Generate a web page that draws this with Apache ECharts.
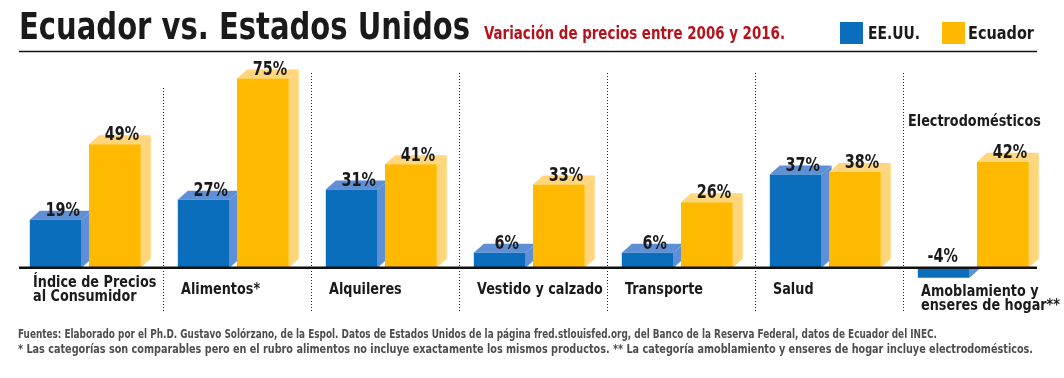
<!DOCTYPE html>
<html>
<head>
<meta charset="utf-8">
<script src="https://cdn.jsdelivr.net/npm/echarts@6/dist/echarts.min.js"></script>
<style>
html,body{margin:0;padding:0;background:#fff;}
#c{width:1064px;height:378px;}
</style>
</head>
<body>
<div id="c"></div>
<script>
// ---- data ----
const categories = ['Índice de Precios\nal Consumidor', 'Alimentos*', 'Alquileres', 'Vestido y calzado', 'Transporte', 'Salud', 'Amoblamiento y\nenseres de hogar**'];
const groupNotes = ['', '', '', '', '', '', 'Electrodomésticos'];
const usValues = [19, 27, 31, 6, 6, 37, -4];
const ecValues = [49, 75, 41, 33, 26, 38, 42];
const seriesNames = ['EE.UU.', 'Ecuador'];
const titleText = 'Ecuador vs. Estados Unidos';
const subtitleText = 'Variación de precios entre 2006 y 2016.';
const footnotes = [
  'Fuentes: Elaborado por el Ph.D. Gustavo Solórzano, de la Espol. Datos de Estados Unidos de la página fred.stlouisfed.org, del Banco de la Reserva Federal, datos de Ecuador del INEC.',
  '* Las categorías son comparables pero en el rubro alimentos no incluye exactamente los mismos productos. ** La categoría amoblamiento y enseres de hogar incluye electrodomésticos.'
];

// ---- style ----
const FONT = '"DejaVu Sans Condensed", "DejaVu Sans", sans-serif';
const BLUE = '#0A6EBD', BLUE_L = '#5F90D6';
const YEL = '#FFB900', YEL_L = '#FFD67C';
const INK = '#1a1a1a';
const DX = 10, DY = 9;
const VAL_FONT = 'bold 20px ' + FONT, VAL_SX = 0.8;
const CAT_FONT = 'bold 16px ' + FONT, CAT_SX = 0.89;

const _ctx = document.createElement('canvas').getContext('2d');
function fitScale(text, font, target) {
  _ctx.font = font;
  return target / _ctx.measureText(text).width;
}
function fitText(text, font, x, y, target, color, vAlign) {
  return {type: 'text', x: x, y: y, scaleX: fitScale(text, font, target), style: {text: text, font: font, fill: color, align: 'left', verticalAlign: vAlign || 'top'}};
}

function barRenderer(offsetFrac, front, light) {
  return function (params, api) {
    const i = api.value(0), v = api.value(1);
    const base = api.coord([i, 0]);
    const end = api.coord([i, v]);
    const band = api.size([1, 0])[0];
    const w = band * 0.35;
    const x0 = base[0] + band * offsetFrac;
    const children = [];
    const y0 = base[1], y1 = end[1];
    if (v >= 0) {
      children.push({type: 'polygon', shape: {points: [[x0 + w, y1], [x0 + w + DX, y1 - DY], [x0 + w + DX, y0 - DY], [x0 + w, y0]]}, style: {fill: light}});
      children.push({type: 'polygon', shape: {points: [[x0, y1], [x0 + DX, y1 - DY], [x0 + w + DX, y1 - DY], [x0 + w, y1]]}, style: {fill: light}});
      children.push({type: 'rect', shape: {x: x0, y: y1, width: w, height: y0 - y1}, style: {fill: front}});
      children.push({type: 'text', x: x0 + w / 2 + 7, y: y1 + 1, scaleX: VAL_SX, style: {text: v + '%', fill: INK, font: VAL_FONT, align: 'center', verticalAlign: 'bottom'}});
    } else {
      children.push({type: 'polygon', shape: {points: [[x0 + w, y0], [x0 + w + DX, y0], [x0 + w + DX, Math.max(y0, y1 - DY)], [x0 + w, y1]]}, style: {fill: light}});
      children.push({type: 'rect', shape: {x: x0, y: y0, width: w, height: y1 - y0}, style: {fill: front}});
      children.push({type: 'text', x: x0 + w / 2 - 1, y: y0 - 1, scaleX: VAL_SX, style: {text: v + '%', fill: INK, font: VAL_FONT, align: 'center', verticalAlign: 'bottom'}});
    }
    return {type: 'group', children: children};
  };
}

function frameRenderer(params, api) {
  const i = api.value(0);
  const base = api.coord([i, 0]);
  const band = api.size([1, 0])[0];
  const left = base[0] - band / 2;
  const children = [];
  if (i < categories.length - 1) {
    const xs = Math.round(base[0] + band / 2) + 0.5;
    children.push({type: 'line', shape: {x1: xs, y1: i === 0 ? 88 : 73, x2: xs, y2: 313}, style: {stroke: '#222', lineWidth: 1, lineDash: [1, 2]}});
  }
  if (i === 0) {
    children.push({type: 'line', shape: {x1: 19, y1: base[1], x2: 1037, y2: base[1]}, style: {stroke: '#111', lineWidth: 2.5}});
  }
  const minV = Math.min(0, usValues[i], ecValues[i]);
  const bottom = api.coord([i, minV])[1];
  const neg = minV < 0;
  children.push({type: 'text', x: left + 18, y: bottom + (neg ? 21 : 22), scaleX: CAT_SX, style: {text: categories[i], fill: INK, font: CAT_FONT, align: 'left', verticalAlign: 'middle', lineHeight: 14}});
  if (groupNotes[i]) {
    const maxV = Math.max(usValues[i], ecValues[i]);
    const ty = api.coord([i, maxV])[1];
    children.push({type: 'text', x: left + 5, y: ty - 40, scaleX: CAT_SX, style: {text: groupNotes[i], fill: INK, font: CAT_FONT, align: 'left', verticalAlign: 'middle'}});
  }
  return {type: 'group', children: children};
}

const TITLE_FONT = 'bold 38px ' + FONT;
const SUB_FONT = 'bold 17px ' + FONT;
const LEG_FONT = 'bold 18px ' + FONT;
const FOOT_FONT = 'bold 13px ' + FONT;

const chart = echarts.init(document.getElementById('c'), null, {renderer: 'canvas'});
chart.setOption({
  animation: false,
  backgroundColor: '#fff',
  graphic: [
    fitText(titleText, TITLE_FONT, 19, 10, 451, INK),
    fitText(subtitleText, SUB_FONT, 484, 26, 301, '#B5121B'),
    {type: 'line', shape: {x1: 19, y1: 51.5, x2: 1037, y2: 51.5}, style: {stroke: '#111', lineWidth: 1.5}},
    {type: 'rect', shape: {x: 840, y: 22, width: 23, height: 22}, style: {fill: BLUE}},
    fitText(seriesNames[0], LEG_FONT, 868, 34, 52, INK, 'middle'),
    {type: 'rect', shape: {x: 942, y: 22, width: 23, height: 22}, style: {fill: YEL}},
    fitText(seriesNames[1], LEG_FONT, 968, 34, 66, INK, 'middle'),
    fitText(footnotes[0], FOOT_FONT, 18, 328, 919, '#4d4d4d'),
    fitText(footnotes[1], FOOT_FONT, 18, 343, 1015, '#4d4d4d')
  ],
  grid: {left: 15, width: 1036, top: 66, height: 227},
  xAxis: {type: 'category', data: categories, show: false},
  yAxis: {type: 'value', min: -10, max: 80, show: false},
  series: [
    {name: seriesNames[0], type: 'custom', itemStyle: {color: BLUE}, data: usValues.map((v, i) => [i, v]), encode: {x: 0, y: 1}, renderItem: barRenderer(-0.4, BLUE, BLUE_L), z: 2},
    {name: seriesNames[1], type: 'custom', itemStyle: {color: YEL}, data: ecValues.map((v, i) => [i, v]), encode: {x: 0, y: 1}, renderItem: barRenderer(0, YEL, YEL_L), z: 3},
    {name: 'frame', type: 'custom', data: categories.map((c, i) => [i, 0]), encode: {x: 0, y: 1}, renderItem: frameRenderer, z: 4}
  ]
});
</script>
</body>
</html>
